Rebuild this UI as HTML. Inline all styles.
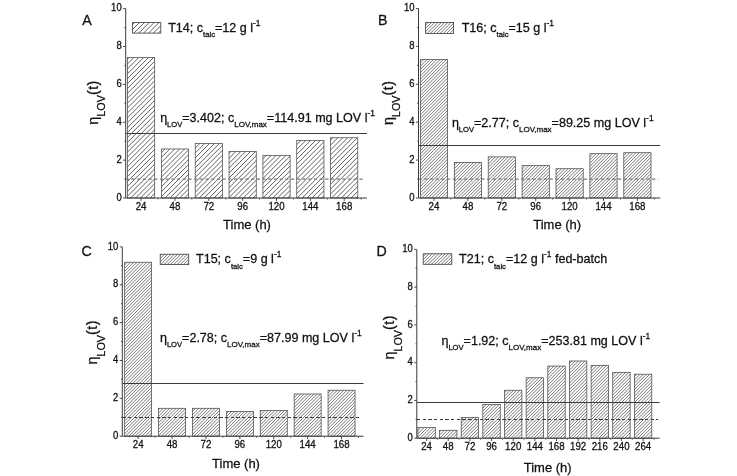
<!DOCTYPE html>
<html lang="en"><head><meta charset="utf-8"><title>Figure</title>
<style>html,body{margin:0;padding:0;background:#fff}body{width:737px;height:476px;overflow:hidden}svg{display:block}</style>
</head><body>
<svg width="737" height="476" viewBox="0 0 737 476" font-family='"Liberation Sans", sans-serif' fill="#111" stroke="#111" stroke-width="0.28">
<defs>
<clipPath id="cA"><rect x="127.50" y="57.47" width="27.20" height="140.53"/><rect x="161.35" y="148.95" width="27.20" height="49.05"/><rect x="195.20" y="143.45" width="27.20" height="54.55"/><rect x="229.05" y="151.60" width="27.20" height="46.40"/><rect x="262.90" y="155.38" width="27.20" height="42.62"/><rect x="296.75" y="140.42" width="27.20" height="57.58"/><rect x="330.60" y="137.77" width="27.20" height="60.23"/><rect x="132.5" y="22.6" width="28.3" height="10.5"/></clipPath>
<clipPath id="cB"><rect x="420.40" y="59.48" width="27.20" height="138.52"/><rect x="454.30" y="162.37" width="27.20" height="35.63"/><rect x="488.20" y="156.88" width="27.20" height="41.12"/><rect x="522.10" y="165.60" width="27.20" height="32.40"/><rect x="556.00" y="168.72" width="27.20" height="29.28"/><rect x="589.90" y="153.66" width="27.20" height="44.34"/><rect x="623.80" y="152.71" width="27.20" height="45.29"/><rect x="425.6" y="22.4" width="28" height="11"/></clipPath>
<clipPath id="cC"><rect x="124.65" y="262.23" width="27.00" height="173.97"/><rect x="158.55" y="408.28" width="27.00" height="27.92"/><rect x="192.45" y="408.28" width="27.00" height="27.92"/><rect x="226.35" y="411.59" width="27.00" height="24.61"/><rect x="260.25" y="410.46" width="27.00" height="25.74"/><rect x="294.15" y="393.99" width="27.00" height="42.21"/><rect x="328.05" y="390.20" width="27.00" height="46.00"/><rect x="160.2" y="254.2" width="28.5" height="10.4"/></clipPath>
<clipPath id="cD"><rect x="417.90" y="427.44" width="17.40" height="10.76"/><rect x="439.55" y="430.27" width="17.40" height="7.93"/><rect x="461.20" y="417.43" width="17.40" height="20.77"/><rect x="482.85" y="404.59" width="17.40" height="33.61"/><rect x="504.50" y="390.24" width="17.40" height="47.96"/><rect x="526.15" y="377.78" width="17.40" height="60.42"/><rect x="547.80" y="366.08" width="17.40" height="72.12"/><rect x="569.45" y="360.98" width="17.40" height="77.22"/><rect x="591.10" y="365.32" width="17.40" height="72.88"/><rect x="612.75" y="372.31" width="17.40" height="65.89"/><rect x="634.40" y="374.20" width="17.40" height="64.00"/><rect x="423.2" y="253.8" width="28.6" height="10.5"/></clipPath>
<clipPath id="clipA"><rect x="0" y="0" width="375" height="476"/></clipPath>
</defs>
<rect width="737" height="476" fill="#fff" stroke="none"/>
<g>
<path clip-path="url(#cA)" d="M-67.40 200.00L126.00 6.60M-62.50 200.00L130.90 6.60M-57.60 200.00L135.80 6.60M-52.70 200.00L140.70 6.60M-47.80 200.00L145.60 6.60M-42.90 200.00L150.50 6.60M-38.00 200.00L155.40 6.60M-33.10 200.00L160.30 6.60M-28.20 200.00L165.20 6.60M-23.30 200.00L170.10 6.60M-18.40 200.00L175.00 6.60M-13.50 200.00L179.90 6.60M-8.60 200.00L184.80 6.60M-3.70 200.00L189.70 6.60M1.20 200.00L194.60 6.60M6.10 200.00L199.50 6.60M11.00 200.00L204.40 6.60M15.90 200.00L209.30 6.60M20.80 200.00L214.20 6.60M25.70 200.00L219.10 6.60M30.60 200.00L224.00 6.60M35.50 200.00L228.90 6.60M40.40 200.00L233.80 6.60M45.30 200.00L238.70 6.60M50.20 200.00L243.60 6.60M55.10 200.00L248.50 6.60M60.00 200.00L253.40 6.60M64.90 200.00L258.30 6.60M69.80 200.00L263.20 6.60M74.70 200.00L268.10 6.60M79.60 200.00L273.00 6.60M84.50 200.00L277.90 6.60M89.40 200.00L282.80 6.60M94.30 200.00L287.70 6.60M99.20 200.00L292.60 6.60M104.10 200.00L297.50 6.60M109.00 200.00L302.40 6.60M113.90 200.00L307.30 6.60M118.80 200.00L312.20 6.60M123.70 200.00L317.10 6.60M128.60 200.00L322.00 6.60M133.50 200.00L326.90 6.60M138.40 200.00L331.80 6.60M143.30 200.00L336.70 6.60M148.20 200.00L341.60 6.60M153.10 200.00L346.50 6.60M158.00 200.00L351.40 6.60M162.90 200.00L356.30 6.60M167.80 200.00L361.20 6.60M172.70 200.00L366.10 6.60M177.60 200.00L371.00 6.60M182.50 200.00L375.90 6.60M187.40 200.00L380.80 6.60M192.30 200.00L385.70 6.60M197.20 200.00L390.60 6.60M202.10 200.00L395.50 6.60M207.00 200.00L400.40 6.60M211.90 200.00L405.30 6.60M216.80 200.00L410.20 6.60M221.70 200.00L415.10 6.60M226.60 200.00L420.00 6.60M231.50 200.00L424.90 6.60M236.40 200.00L429.80 6.60M241.30 200.00L434.70 6.60M246.20 200.00L439.60 6.60M251.10 200.00L444.50 6.60M256.00 200.00L449.40 6.60M260.90 200.00L454.30 6.60M265.80 200.00L459.20 6.60M270.70 200.00L464.10 6.60M275.60 200.00L469.00 6.60M280.50 200.00L473.90 6.60M285.40 200.00L478.80 6.60M290.30 200.00L483.70 6.60M295.20 200.00L488.60 6.60M300.10 200.00L493.50 6.60M305.00 200.00L498.40 6.60M309.90 200.00L503.30 6.60M314.80 200.00L508.20 6.60M319.70 200.00L513.10 6.60M324.60 200.00L518.00 6.60M329.50 200.00L522.90 6.60M334.40 200.00L527.80 6.60M339.30 200.00L532.70 6.60M344.20 200.00L537.60 6.60M349.10 200.00L542.50 6.60M354.00 200.00L547.40 6.60M358.90 200.00L552.30 6.60M363.80 200.00L557.20 6.60" fill="none" stroke="#3a3a3a" stroke-width="0.8"/>
<rect x="127.50" y="57.47" width="27.20" height="140.53" fill="none" stroke="#444" stroke-width="0.72"/>
<rect x="161.35" y="148.95" width="27.20" height="49.05" fill="none" stroke="#444" stroke-width="0.72"/>
<rect x="195.20" y="143.45" width="27.20" height="54.55" fill="none" stroke="#444" stroke-width="0.72"/>
<rect x="229.05" y="151.60" width="27.20" height="46.40" fill="none" stroke="#444" stroke-width="0.72"/>
<rect x="262.90" y="155.38" width="27.20" height="42.62" fill="none" stroke="#444" stroke-width="0.72"/>
<rect x="296.75" y="140.42" width="27.20" height="57.58" fill="none" stroke="#444" stroke-width="0.72"/>
<rect x="330.60" y="137.77" width="27.20" height="60.23" fill="none" stroke="#444" stroke-width="0.72"/>
<line x1="125.70" y1="133.50" x2="367.00" y2="133.50" stroke="#3c3c3c" stroke-width="1"/>
<line x1="125.70" y1="179.06" x2="365.00" y2="179.06" stroke="#777" stroke-width="1.3" stroke-dasharray="3.2 2.5"/>
<path d="M125.70 8.60V198.00H367.00" fill="none" stroke="#3a3a3a" stroke-width="1"/>
<path d="M125.70 198.00h-2.6M125.70 179.06h-1.3M125.70 160.12h-2.6M125.70 141.18h-1.3M125.70 122.24h-2.6M125.70 103.30h-1.3M125.70 84.36h-2.6M125.70 65.42h-1.3M125.70 46.48h-2.6M125.70 27.54h-1.3M125.70 8.60h-2.6M141.10 198.00v2.9M158.03 198.00v1.5M174.95 198.00v2.9M191.88 198.00v1.5M208.80 198.00v2.9M225.73 198.00v1.5M242.65 198.00v2.9M259.57 198.00v1.5M276.50 198.00v2.9M293.43 198.00v1.5M310.35 198.00v2.9M327.28 198.00v1.5M344.20 198.00v2.9M361.13 198.00v1.5" fill="none" stroke="#3a3a3a" stroke-width="0.9"/>
<text transform="translate(121.70 200.60) scale(0.95 1)" font-size="10.0" text-anchor="end">0</text>
<text transform="translate(121.70 162.72) scale(0.95 1)" font-size="10.0" text-anchor="end">2</text>
<text transform="translate(121.70 124.84) scale(0.95 1)" font-size="10.0" text-anchor="end">4</text>
<text transform="translate(121.70 86.96) scale(0.95 1)" font-size="10.0" text-anchor="end">6</text>
<text transform="translate(121.70 49.08) scale(0.95 1)" font-size="10.0" text-anchor="end">8</text>
<text transform="translate(121.70 11.20) scale(0.95 1)" font-size="10.0" text-anchor="end">10</text>
<text transform="translate(141.10 210.20) scale(0.97 1)" font-size="10.0" text-anchor="middle">24</text>
<text transform="translate(174.95 210.20) scale(0.97 1)" font-size="10.0" text-anchor="middle">48</text>
<text transform="translate(208.80 210.20) scale(0.97 1)" font-size="10.0" text-anchor="middle">72</text>
<text transform="translate(242.65 210.20) scale(0.97 1)" font-size="10.0" text-anchor="middle">96</text>
<text transform="translate(276.50 210.20) scale(0.97 1)" font-size="10.0" text-anchor="middle">120</text>
<text transform="translate(310.35 210.20) scale(0.97 1)" font-size="10.0" text-anchor="middle">144</text>
<text transform="translate(344.20 210.20) scale(0.97 1)" font-size="10.0" text-anchor="middle">168</text>
<text transform="translate(82.30 24.60)" font-size="14.2">A</text>
<rect x="132.5" y="22.6" width="28.3" height="10.5" fill="none" stroke="#3a3a3a" stroke-width="0.8"/>
<text transform="translate(168.20 31.80)" font-size="12.55">T14; c<tspan font-size="7.7" dy="5.3">talc</tspan><tspan dy="-5.3">=12 g l</tspan><tspan font-size="8.4" dy="-6" dx="0">-1</tspan></text>
<g clip-path="url(#clipA)">
<text transform="translate(160.20 121.90)" font-size="12.55">η<tspan font-size="7.6" dy="4.8" dx="-0.1">LOV</tspan><tspan dy="-4.8">=3.402; c</tspan><tspan font-size="8.0" dy="4.8">LOV,max</tspan><tspan dy="-4.8">=114.91 mg LOV l</tspan><tspan font-size="8.4" dy="-6.3" dx="0">-1</tspan></text>
</g>
<text transform="translate(247.00 228.60)" font-size="13.0" text-anchor="middle">Time (h)</text>
<text transform="translate(97.60 102.40) rotate(-90)" font-size="14.3" text-anchor="middle">η<tspan font-size="10.8" dy="7.6">LOV</tspan><tspan dy="-7.6" letter-spacing="0.5">(t)</tspan></text>
</g>
<g>
<path clip-path="url(#cB)" d="M228.00 200.00L421.50 6.50M231.25 200.00L424.75 6.50M234.50 200.00L428.00 6.50M237.75 200.00L431.25 6.50M241.00 200.00L434.50 6.50M244.25 200.00L437.75 6.50M247.50 200.00L441.00 6.50M250.75 200.00L444.25 6.50M254.00 200.00L447.50 6.50M257.25 200.00L450.75 6.50M260.50 200.00L454.00 6.50M263.75 200.00L457.25 6.50M267.00 200.00L460.50 6.50M270.25 200.00L463.75 6.50M273.50 200.00L467.00 6.50M276.75 200.00L470.25 6.50M280.00 200.00L473.50 6.50M283.25 200.00L476.75 6.50M286.50 200.00L480.00 6.50M289.75 200.00L483.25 6.50M293.00 200.00L486.50 6.50M296.25 200.00L489.75 6.50M299.50 200.00L493.00 6.50M302.75 200.00L496.25 6.50M306.00 200.00L499.50 6.50M309.25 200.00L502.75 6.50M312.50 200.00L506.00 6.50M315.75 200.00L509.25 6.50M319.00 200.00L512.50 6.50M322.25 200.00L515.75 6.50M325.50 200.00L519.00 6.50M328.75 200.00L522.25 6.50M332.00 200.00L525.50 6.50M335.25 200.00L528.75 6.50M338.50 200.00L532.00 6.50M341.75 200.00L535.25 6.50M345.00 200.00L538.50 6.50M348.25 200.00L541.75 6.50M351.50 200.00L545.00 6.50M354.75 200.00L548.25 6.50M358.00 200.00L551.50 6.50M361.25 200.00L554.75 6.50M364.50 200.00L558.00 6.50M367.75 200.00L561.25 6.50M371.00 200.00L564.50 6.50M374.25 200.00L567.75 6.50M377.50 200.00L571.00 6.50M380.75 200.00L574.25 6.50M384.00 200.00L577.50 6.50M387.25 200.00L580.75 6.50M390.50 200.00L584.00 6.50M393.75 200.00L587.25 6.50M397.00 200.00L590.50 6.50M400.25 200.00L593.75 6.50M403.50 200.00L597.00 6.50M406.75 200.00L600.25 6.50M410.00 200.00L603.50 6.50M413.25 200.00L606.75 6.50M416.50 200.00L610.00 6.50M419.75 200.00L613.25 6.50M423.00 200.00L616.50 6.50M426.25 200.00L619.75 6.50M429.50 200.00L623.00 6.50M432.75 200.00L626.25 6.50M436.00 200.00L629.50 6.50M439.25 200.00L632.75 6.50M442.50 200.00L636.00 6.50M445.75 200.00L639.25 6.50M449.00 200.00L642.50 6.50M452.25 200.00L645.75 6.50M455.50 200.00L649.00 6.50M458.75 200.00L652.25 6.50M462.00 200.00L655.50 6.50M465.25 200.00L658.75 6.50M468.50 200.00L662.00 6.50M471.75 200.00L665.25 6.50M475.00 200.00L668.50 6.50M478.25 200.00L671.75 6.50M481.50 200.00L675.00 6.50M484.75 200.00L678.25 6.50M488.00 200.00L681.50 6.50M491.25 200.00L684.75 6.50M494.50 200.00L688.00 6.50M497.75 200.00L691.25 6.50M501.00 200.00L694.50 6.50M504.25 200.00L697.75 6.50M507.50 200.00L701.00 6.50M510.75 200.00L704.25 6.50M514.00 200.00L707.50 6.50M517.25 200.00L710.75 6.50M520.50 200.00L714.00 6.50M523.75 200.00L717.25 6.50M527.00 200.00L720.50 6.50M530.25 200.00L723.75 6.50M533.50 200.00L727.00 6.50M536.75 200.00L730.25 6.50M540.00 200.00L733.50 6.50M543.25 200.00L736.75 6.50M546.50 200.00L740.00 6.50M549.75 200.00L743.25 6.50M553.00 200.00L746.50 6.50M556.25 200.00L749.75 6.50M559.50 200.00L753.00 6.50M562.75 200.00L756.25 6.50M566.00 200.00L759.50 6.50M569.25 200.00L762.75 6.50M572.50 200.00L766.00 6.50M575.75 200.00L769.25 6.50M579.00 200.00L772.50 6.50M582.25 200.00L775.75 6.50M585.50 200.00L779.00 6.50M588.75 200.00L782.25 6.50M592.00 200.00L785.50 6.50M595.25 200.00L788.75 6.50M598.50 200.00L792.00 6.50M601.75 200.00L795.25 6.50M605.00 200.00L798.50 6.50M608.25 200.00L801.75 6.50M611.50 200.00L805.00 6.50M614.75 200.00L808.25 6.50M618.00 200.00L811.50 6.50M621.25 200.00L814.75 6.50M624.50 200.00L818.00 6.50M627.75 200.00L821.25 6.50M631.00 200.00L824.50 6.50M634.25 200.00L827.75 6.50M637.50 200.00L831.00 6.50M640.75 200.00L834.25 6.50M644.00 200.00L837.50 6.50M647.25 200.00L840.75 6.50M650.50 200.00L844.00 6.50M653.75 200.00L847.25 6.50M657.00 200.00L850.50 6.50M660.25 200.00L853.75 6.50" fill="none" stroke="#3a3a3a" stroke-width="0.68"/>
<rect x="420.40" y="59.48" width="27.20" height="138.52" fill="none" stroke="#444" stroke-width="0.72"/>
<rect x="454.30" y="162.37" width="27.20" height="35.63" fill="none" stroke="#444" stroke-width="0.72"/>
<rect x="488.20" y="156.88" width="27.20" height="41.12" fill="none" stroke="#444" stroke-width="0.72"/>
<rect x="522.10" y="165.60" width="27.20" height="32.40" fill="none" stroke="#444" stroke-width="0.72"/>
<rect x="556.00" y="168.72" width="27.20" height="29.28" fill="none" stroke="#444" stroke-width="0.72"/>
<rect x="589.90" y="153.66" width="27.20" height="44.34" fill="none" stroke="#444" stroke-width="0.72"/>
<rect x="623.80" y="152.71" width="27.20" height="45.29" fill="none" stroke="#444" stroke-width="0.72"/>
<line x1="418.50" y1="145.50" x2="660.30" y2="145.50" stroke="#3c3c3c" stroke-width="1"/>
<line x1="418.50" y1="179.05" x2="658.30" y2="179.05" stroke="#777" stroke-width="1.3" stroke-dasharray="3.2 2.5"/>
<path d="M418.50 8.50V198.00H660.30" fill="none" stroke="#3a3a3a" stroke-width="1"/>
<path d="M418.50 198.00h-2.6M418.50 179.05h-1.3M418.50 160.10h-2.6M418.50 141.15h-1.3M418.50 122.20h-2.6M418.50 103.25h-1.3M418.50 84.30h-2.6M418.50 65.35h-1.3M418.50 46.40h-2.6M418.50 27.45h-1.3M418.50 8.50h-2.6M434.00 198.00v2.9M450.95 198.00v1.5M467.90 198.00v2.9M484.85 198.00v1.5M501.80 198.00v2.9M518.75 198.00v1.5M535.70 198.00v2.9M552.65 198.00v1.5M569.60 198.00v2.9M586.55 198.00v1.5M603.50 198.00v2.9M620.45 198.00v1.5M637.40 198.00v2.9M654.35 198.00v1.5" fill="none" stroke="#3a3a3a" stroke-width="0.9"/>
<text transform="translate(414.50 200.60) scale(0.95 1)" font-size="10.0" text-anchor="end">0</text>
<text transform="translate(414.50 162.70) scale(0.95 1)" font-size="10.0" text-anchor="end">2</text>
<text transform="translate(414.50 124.80) scale(0.95 1)" font-size="10.0" text-anchor="end">4</text>
<text transform="translate(414.50 86.90) scale(0.95 1)" font-size="10.0" text-anchor="end">6</text>
<text transform="translate(414.50 49.00) scale(0.95 1)" font-size="10.0" text-anchor="end">8</text>
<text transform="translate(414.50 11.10) scale(0.95 1)" font-size="10.0" text-anchor="end">10</text>
<text transform="translate(434.00 210.20) scale(0.97 1)" font-size="10.0" text-anchor="middle">24</text>
<text transform="translate(467.90 210.20) scale(0.97 1)" font-size="10.0" text-anchor="middle">48</text>
<text transform="translate(501.80 210.20) scale(0.97 1)" font-size="10.0" text-anchor="middle">72</text>
<text transform="translate(535.70 210.20) scale(0.97 1)" font-size="10.0" text-anchor="middle">96</text>
<text transform="translate(569.60 210.20) scale(0.97 1)" font-size="10.0" text-anchor="middle">120</text>
<text transform="translate(603.50 210.20) scale(0.97 1)" font-size="10.0" text-anchor="middle">144</text>
<text transform="translate(637.40 210.20) scale(0.97 1)" font-size="10.0" text-anchor="middle">168</text>
<text transform="translate(378.00 24.80)" font-size="14.2">B</text>
<rect x="425.6" y="22.4" width="28" height="11" fill="none" stroke="#3a3a3a" stroke-width="0.8"/>
<text transform="translate(461.70 31.80)" font-size="12.55">T16; c<tspan font-size="7.7" dy="5.3">talc</tspan><tspan dy="-5.3">=15 g l</tspan><tspan font-size="8.4" dy="-6" dx="0">-1</tspan></text>
<text transform="translate(451.90 126.80)" font-size="12.55">η<tspan font-size="7.6" dy="4.8" dx="-0.1">LOV</tspan><tspan dy="-4.8">=2.77; c</tspan><tspan font-size="8.0" dy="4.8">LOV,max</tspan><tspan dy="-4.8">=89.25 mg LOV l</tspan><tspan font-size="8.4" dy="-6.3" dx="0">-1</tspan></text>
<text transform="translate(557.20 228.60)" font-size="13.0" text-anchor="middle">Time (h)</text>
<text transform="translate(392.60 102.80) rotate(-90)" font-size="14.3" text-anchor="middle">η<tspan font-size="10.8" dy="7.6">LOV</tspan><tspan dy="-7.6" letter-spacing="0.5">(t)</tspan></text>
</g>
<g>
<path clip-path="url(#cC)" d="M-68.20 438.20L125.10 244.90M-64.95 438.20L128.35 244.90M-61.70 438.20L131.60 244.90M-58.45 438.20L134.85 244.90M-55.20 438.20L138.10 244.90M-51.95 438.20L141.35 244.90M-48.70 438.20L144.60 244.90M-45.45 438.20L147.85 244.90M-42.20 438.20L151.10 244.90M-38.95 438.20L154.35 244.90M-35.70 438.20L157.60 244.90M-32.45 438.20L160.85 244.90M-29.20 438.20L164.10 244.90M-25.95 438.20L167.35 244.90M-22.70 438.20L170.60 244.90M-19.45 438.20L173.85 244.90M-16.20 438.20L177.10 244.90M-12.95 438.20L180.35 244.90M-9.70 438.20L183.60 244.90M-6.45 438.20L186.85 244.90M-3.20 438.20L190.10 244.90M0.05 438.20L193.35 244.90M3.30 438.20L196.60 244.90M6.55 438.20L199.85 244.90M9.80 438.20L203.10 244.90M13.05 438.20L206.35 244.90M16.30 438.20L209.60 244.90M19.55 438.20L212.85 244.90M22.80 438.20L216.10 244.90M26.05 438.20L219.35 244.90M29.30 438.20L222.60 244.90M32.55 438.20L225.85 244.90M35.80 438.20L229.10 244.90M39.05 438.20L232.35 244.90M42.30 438.20L235.60 244.90M45.55 438.20L238.85 244.90M48.80 438.20L242.10 244.90M52.05 438.20L245.35 244.90M55.30 438.20L248.60 244.90M58.55 438.20L251.85 244.90M61.80 438.20L255.10 244.90M65.05 438.20L258.35 244.90M68.30 438.20L261.60 244.90M71.55 438.20L264.85 244.90M74.80 438.20L268.10 244.90M78.05 438.20L271.35 244.90M81.30 438.20L274.60 244.90M84.55 438.20L277.85 244.90M87.80 438.20L281.10 244.90M91.05 438.20L284.35 244.90M94.30 438.20L287.60 244.90M97.55 438.20L290.85 244.90M100.80 438.20L294.10 244.90M104.05 438.20L297.35 244.90M107.30 438.20L300.60 244.90M110.55 438.20L303.85 244.90M113.80 438.20L307.10 244.90M117.05 438.20L310.35 244.90M120.30 438.20L313.60 244.90M123.55 438.20L316.85 244.90M126.80 438.20L320.10 244.90M130.05 438.20L323.35 244.90M133.30 438.20L326.60 244.90M136.55 438.20L329.85 244.90M139.80 438.20L333.10 244.90M143.05 438.20L336.35 244.90M146.30 438.20L339.60 244.90M149.55 438.20L342.85 244.90M152.80 438.20L346.10 244.90M156.05 438.20L349.35 244.90M159.30 438.20L352.60 244.90M162.55 438.20L355.85 244.90M165.80 438.20L359.10 244.90M169.05 438.20L362.35 244.90M172.30 438.20L365.60 244.90M175.55 438.20L368.85 244.90M178.80 438.20L372.10 244.90M182.05 438.20L375.35 244.90M185.30 438.20L378.60 244.90M188.55 438.20L381.85 244.90M191.80 438.20L385.10 244.90M195.05 438.20L388.35 244.90M198.30 438.20L391.60 244.90M201.55 438.20L394.85 244.90M204.80 438.20L398.10 244.90M208.05 438.20L401.35 244.90M211.30 438.20L404.60 244.90M214.55 438.20L407.85 244.90M217.80 438.20L411.10 244.90M221.05 438.20L414.35 244.90M224.30 438.20L417.60 244.90M227.55 438.20L420.85 244.90M230.80 438.20L424.10 244.90M234.05 438.20L427.35 244.90M237.30 438.20L430.60 244.90M240.55 438.20L433.85 244.90M243.80 438.20L437.10 244.90M247.05 438.20L440.35 244.90M250.30 438.20L443.60 244.90M253.55 438.20L446.85 244.90M256.80 438.20L450.10 244.90M260.05 438.20L453.35 244.90M263.30 438.20L456.60 244.90M266.55 438.20L459.85 244.90M269.80 438.20L463.10 244.90M273.05 438.20L466.35 244.90M276.30 438.20L469.60 244.90M279.55 438.20L472.85 244.90M282.80 438.20L476.10 244.90M286.05 438.20L479.35 244.90M289.30 438.20L482.60 244.90M292.55 438.20L485.85 244.90M295.80 438.20L489.10 244.90M299.05 438.20L492.35 244.90M302.30 438.20L495.60 244.90M305.55 438.20L498.85 244.90M308.80 438.20L502.10 244.90M312.05 438.20L505.35 244.90M315.30 438.20L508.60 244.90M318.55 438.20L511.85 244.90M321.80 438.20L515.10 244.90M325.05 438.20L518.35 244.90M328.30 438.20L521.60 244.90M331.55 438.20L524.85 244.90M334.80 438.20L528.10 244.90M338.05 438.20L531.35 244.90M341.30 438.20L534.60 244.90M344.55 438.20L537.85 244.90M347.80 438.20L541.10 244.90M351.05 438.20L544.35 244.90M354.30 438.20L547.60 244.90M357.55 438.20L550.85 244.90M360.80 438.20L554.10 244.90" fill="none" stroke="#3a3a3a" stroke-width="0.68"/>
<rect x="124.65" y="262.23" width="27.00" height="173.97" fill="none" stroke="#444" stroke-width="0.72"/>
<rect x="158.55" y="408.28" width="27.00" height="27.92" fill="none" stroke="#444" stroke-width="0.72"/>
<rect x="192.45" y="408.28" width="27.00" height="27.92" fill="none" stroke="#444" stroke-width="0.72"/>
<rect x="226.35" y="411.59" width="27.00" height="24.61" fill="none" stroke="#444" stroke-width="0.72"/>
<rect x="260.25" y="410.46" width="27.00" height="25.74" fill="none" stroke="#444" stroke-width="0.72"/>
<rect x="294.15" y="393.99" width="27.00" height="42.21" fill="none" stroke="#444" stroke-width="0.72"/>
<rect x="328.05" y="390.20" width="27.00" height="46.00" fill="none" stroke="#444" stroke-width="0.72"/>
<line x1="122.30" y1="383.50" x2="363.50" y2="383.50" stroke="#3c3c3c" stroke-width="1"/>
<line x1="122.30" y1="417.27" x2="361.50" y2="417.27" stroke="#3a3a3a" stroke-width="1" stroke-dasharray="3.4 2.3" shape-rendering="crispEdges"/>
<path d="M122.30 246.90V436.20H363.50" fill="none" stroke="#3a3a3a" stroke-width="1"/>
<path d="M122.30 436.20h-2.6M122.30 417.27h-1.3M122.30 398.34h-2.6M122.30 379.41h-1.3M122.30 360.48h-2.6M122.30 341.55h-1.3M122.30 322.62h-2.6M122.30 303.69h-1.3M122.30 284.76h-2.6M122.30 265.83h-1.3M122.30 246.90h-2.6M138.15 436.20v2.9M155.10 436.20v1.5M172.05 436.20v2.9M189.00 436.20v1.5M205.95 436.20v2.9M222.90 436.20v1.5M239.85 436.20v2.9M256.80 436.20v1.5M273.75 436.20v2.9M290.70 436.20v1.5M307.65 436.20v2.9M324.60 436.20v1.5M341.55 436.20v2.9M358.50 436.20v1.5" fill="none" stroke="#3a3a3a" stroke-width="0.9"/>
<text transform="translate(118.30 438.80) scale(0.95 1)" font-size="10.0" text-anchor="end">0</text>
<text transform="translate(118.30 400.94) scale(0.95 1)" font-size="10.0" text-anchor="end">2</text>
<text transform="translate(118.30 363.08) scale(0.95 1)" font-size="10.0" text-anchor="end">4</text>
<text transform="translate(118.30 325.22) scale(0.95 1)" font-size="10.0" text-anchor="end">6</text>
<text transform="translate(118.30 287.36) scale(0.95 1)" font-size="10.0" text-anchor="end">8</text>
<text transform="translate(118.30 249.50) scale(0.95 1)" font-size="10.0" text-anchor="end">10</text>
<text transform="translate(138.15 448.40) scale(0.97 1)" font-size="10.0" text-anchor="middle">24</text>
<text transform="translate(172.05 448.40) scale(0.97 1)" font-size="10.0" text-anchor="middle">48</text>
<text transform="translate(205.95 448.40) scale(0.97 1)" font-size="10.0" text-anchor="middle">72</text>
<text transform="translate(239.85 448.40) scale(0.97 1)" font-size="10.0" text-anchor="middle">96</text>
<text transform="translate(273.75 448.40) scale(0.97 1)" font-size="10.0" text-anchor="middle">120</text>
<text transform="translate(307.65 448.40) scale(0.97 1)" font-size="10.0" text-anchor="middle">144</text>
<text transform="translate(341.55 448.40) scale(0.97 1)" font-size="10.0" text-anchor="middle">168</text>
<text transform="translate(81.50 255.60)" font-size="14.2">C</text>
<rect x="160.2" y="254.2" width="28.5" height="10.4" fill="none" stroke="#3a3a3a" stroke-width="0.8"/>
<text transform="translate(196.00 263.20)" font-size="12.55">T15; c<tspan font-size="7.7" dy="5.3">talc</tspan><tspan dy="-5.3">=9 g l</tspan><tspan font-size="8.4" dy="-6" dx="0">-1</tspan></text>
<text transform="translate(160.00 342.40)" font-size="12.55">η<tspan font-size="7.6" dy="4.8" dx="-0.1">LOV</tspan><tspan dy="-4.8">=2.78; c</tspan><tspan font-size="8.0" dy="4.8">LOV,max</tspan><tspan dy="-4.8">=87.99 mg LOV l</tspan><tspan font-size="8.4" dy="-6.3" dx="0">-1</tspan></text>
<text transform="translate(236.00 467.70)" font-size="13.0" text-anchor="middle">Time (h)</text>
<text transform="translate(97.00 342.30) rotate(-90)" font-size="14.3" text-anchor="middle">η<tspan font-size="10.8" dy="7.6">LOV</tspan><tspan dy="-7.6" letter-spacing="0.5">(t)</tspan></text>
</g>
<g>
<path clip-path="url(#cD)" d="M226.30 440.20L419.10 247.40M229.55 440.20L422.35 247.40M232.80 440.20L425.60 247.40M236.05 440.20L428.85 247.40M239.30 440.20L432.10 247.40M242.55 440.20L435.35 247.40M245.80 440.20L438.60 247.40M249.05 440.20L441.85 247.40M252.30 440.20L445.10 247.40M255.55 440.20L448.35 247.40M258.80 440.20L451.60 247.40M262.05 440.20L454.85 247.40M265.30 440.20L458.10 247.40M268.55 440.20L461.35 247.40M271.80 440.20L464.60 247.40M275.05 440.20L467.85 247.40M278.30 440.20L471.10 247.40M281.55 440.20L474.35 247.40M284.80 440.20L477.60 247.40M288.05 440.20L480.85 247.40M291.30 440.20L484.10 247.40M294.55 440.20L487.35 247.40M297.80 440.20L490.60 247.40M301.05 440.20L493.85 247.40M304.30 440.20L497.10 247.40M307.55 440.20L500.35 247.40M310.80 440.20L503.60 247.40M314.05 440.20L506.85 247.40M317.30 440.20L510.10 247.40M320.55 440.20L513.35 247.40M323.80 440.20L516.60 247.40M327.05 440.20L519.85 247.40M330.30 440.20L523.10 247.40M333.55 440.20L526.35 247.40M336.80 440.20L529.60 247.40M340.05 440.20L532.85 247.40M343.30 440.20L536.10 247.40M346.55 440.20L539.35 247.40M349.80 440.20L542.60 247.40M353.05 440.20L545.85 247.40M356.30 440.20L549.10 247.40M359.55 440.20L552.35 247.40M362.80 440.20L555.60 247.40M366.05 440.20L558.85 247.40M369.30 440.20L562.10 247.40M372.55 440.20L565.35 247.40M375.80 440.20L568.60 247.40M379.05 440.20L571.85 247.40M382.30 440.20L575.10 247.40M385.55 440.20L578.35 247.40M388.80 440.20L581.60 247.40M392.05 440.20L584.85 247.40M395.30 440.20L588.10 247.40M398.55 440.20L591.35 247.40M401.80 440.20L594.60 247.40M405.05 440.20L597.85 247.40M408.30 440.20L601.10 247.40M411.55 440.20L604.35 247.40M414.80 440.20L607.60 247.40M418.05 440.20L610.85 247.40M421.30 440.20L614.10 247.40M424.55 440.20L617.35 247.40M427.80 440.20L620.60 247.40M431.05 440.20L623.85 247.40M434.30 440.20L627.10 247.40M437.55 440.20L630.35 247.40M440.80 440.20L633.60 247.40M444.05 440.20L636.85 247.40M447.30 440.20L640.10 247.40M450.55 440.20L643.35 247.40M453.80 440.20L646.60 247.40M457.05 440.20L649.85 247.40M460.30 440.20L653.10 247.40M463.55 440.20L656.35 247.40M466.80 440.20L659.60 247.40M470.05 440.20L662.85 247.40M473.30 440.20L666.10 247.40M476.55 440.20L669.35 247.40M479.80 440.20L672.60 247.40M483.05 440.20L675.85 247.40M486.30 440.20L679.10 247.40M489.55 440.20L682.35 247.40M492.80 440.20L685.60 247.40M496.05 440.20L688.85 247.40M499.30 440.20L692.10 247.40M502.55 440.20L695.35 247.40M505.80 440.20L698.60 247.40M509.05 440.20L701.85 247.40M512.30 440.20L705.10 247.40M515.55 440.20L708.35 247.40M518.80 440.20L711.60 247.40M522.05 440.20L714.85 247.40M525.30 440.20L718.10 247.40M528.55 440.20L721.35 247.40M531.80 440.20L724.60 247.40M535.05 440.20L727.85 247.40M538.30 440.20L731.10 247.40M541.55 440.20L734.35 247.40M544.80 440.20L737.60 247.40M548.05 440.20L740.85 247.40M551.30 440.20L744.10 247.40M554.55 440.20L747.35 247.40M557.80 440.20L750.60 247.40M561.05 440.20L753.85 247.40M564.30 440.20L757.10 247.40M567.55 440.20L760.35 247.40M570.80 440.20L763.60 247.40M574.05 440.20L766.85 247.40M577.30 440.20L770.10 247.40M580.55 440.20L773.35 247.40M583.80 440.20L776.60 247.40M587.05 440.20L779.85 247.40M590.30 440.20L783.10 247.40M593.55 440.20L786.35 247.40M596.80 440.20L789.60 247.40M600.05 440.20L792.85 247.40M603.30 440.20L796.10 247.40M606.55 440.20L799.35 247.40M609.80 440.20L802.60 247.40M613.05 440.20L805.85 247.40M616.30 440.20L809.10 247.40M619.55 440.20L812.35 247.40M622.80 440.20L815.60 247.40M626.05 440.20L818.85 247.40M629.30 440.20L822.10 247.40M632.55 440.20L825.35 247.40M635.80 440.20L828.60 247.40M639.05 440.20L831.85 247.40M642.30 440.20L835.10 247.40M645.55 440.20L838.35 247.40M648.80 440.20L841.60 247.40M652.05 440.20L844.85 247.40M655.30 440.20L848.10 247.40M658.55 440.20L851.35 247.40" fill="none" stroke="#3a3a3a" stroke-width="0.68"/>
<rect x="417.90" y="427.44" width="17.40" height="10.76" fill="none" stroke="#444" stroke-width="0.72"/>
<rect x="439.55" y="430.27" width="17.40" height="7.93" fill="none" stroke="#444" stroke-width="0.72"/>
<rect x="461.20" y="417.43" width="17.40" height="20.77" fill="none" stroke="#444" stroke-width="0.72"/>
<rect x="482.85" y="404.59" width="17.40" height="33.61" fill="none" stroke="#444" stroke-width="0.72"/>
<rect x="504.50" y="390.24" width="17.40" height="47.96" fill="none" stroke="#444" stroke-width="0.72"/>
<rect x="526.15" y="377.78" width="17.40" height="60.42" fill="none" stroke="#444" stroke-width="0.72"/>
<rect x="547.80" y="366.08" width="17.40" height="72.12" fill="none" stroke="#444" stroke-width="0.72"/>
<rect x="569.45" y="360.98" width="17.40" height="77.22" fill="none" stroke="#444" stroke-width="0.72"/>
<rect x="591.10" y="365.32" width="17.40" height="72.88" fill="none" stroke="#444" stroke-width="0.72"/>
<rect x="612.75" y="372.31" width="17.40" height="65.89" fill="none" stroke="#444" stroke-width="0.72"/>
<rect x="634.40" y="374.20" width="17.40" height="64.00" fill="none" stroke="#444" stroke-width="0.72"/>
<line x1="416.80" y1="402.50" x2="659.60" y2="402.50" stroke="#3c3c3c" stroke-width="1"/>
<line x1="416.80" y1="419.32" x2="657.60" y2="419.32" stroke="#3a3a3a" stroke-width="1" stroke-dasharray="3.4 2.3" shape-rendering="crispEdges"/>
<path d="M416.80 249.40V438.20H659.60" fill="none" stroke="#3a3a3a" stroke-width="1"/>
<path d="M416.80 438.20h-2.6M416.80 419.32h-1.3M416.80 400.44h-2.6M416.80 381.56h-1.3M416.80 362.68h-2.6M416.80 343.80h-1.3M416.80 324.92h-2.6M416.80 306.04h-1.3M416.80 287.16h-2.6M416.80 268.28h-1.3M416.80 249.40h-2.6M426.60 438.20v2.9M437.43 438.20v1.5M448.25 438.20v2.9M459.07 438.20v1.5M469.90 438.20v2.9M480.73 438.20v1.5M491.55 438.20v2.9M502.38 438.20v1.5M513.20 438.20v2.9M524.03 438.20v1.5M534.85 438.20v2.9M545.68 438.20v1.5M556.50 438.20v2.9M567.33 438.20v1.5M578.15 438.20v2.9M588.98 438.20v1.5M599.80 438.20v2.9M610.62 438.20v1.5M621.45 438.20v2.9M632.28 438.20v1.5M643.10 438.20v2.9M653.93 438.20v1.5" fill="none" stroke="#3a3a3a" stroke-width="0.9"/>
<text transform="translate(412.80 440.80) scale(0.95 1)" font-size="10.0" text-anchor="end">0</text>
<text transform="translate(412.80 403.04) scale(0.95 1)" font-size="10.0" text-anchor="end">2</text>
<text transform="translate(412.80 365.28) scale(0.95 1)" font-size="10.0" text-anchor="end">4</text>
<text transform="translate(412.80 327.52) scale(0.95 1)" font-size="10.0" text-anchor="end">6</text>
<text transform="translate(412.80 289.76) scale(0.95 1)" font-size="10.0" text-anchor="end">8</text>
<text transform="translate(412.80 252.00) scale(0.95 1)" font-size="10.0" text-anchor="end">10</text>
<text transform="translate(426.60 450.40) scale(0.97 1)" font-size="10.0" text-anchor="middle">24</text>
<text transform="translate(448.25 450.40) scale(0.97 1)" font-size="10.0" text-anchor="middle">48</text>
<text transform="translate(469.90 450.40) scale(0.97 1)" font-size="10.0" text-anchor="middle">72</text>
<text transform="translate(491.55 450.40) scale(0.97 1)" font-size="10.0" text-anchor="middle">96</text>
<text transform="translate(513.20 450.40) scale(0.97 1)" font-size="10.0" text-anchor="middle">120</text>
<text transform="translate(534.85 450.40) scale(0.97 1)" font-size="10.0" text-anchor="middle">144</text>
<text transform="translate(556.50 450.40) scale(0.97 1)" font-size="10.0" text-anchor="middle">168</text>
<text transform="translate(578.15 450.40) scale(0.97 1)" font-size="10.0" text-anchor="middle">192</text>
<text transform="translate(599.80 450.40) scale(0.97 1)" font-size="10.0" text-anchor="middle">216</text>
<text transform="translate(621.45 450.40) scale(0.97 1)" font-size="10.0" text-anchor="middle">240</text>
<text transform="translate(643.10 450.40) scale(0.97 1)" font-size="10.0" text-anchor="middle">264</text>
<text transform="translate(376.50 255.80)" font-size="14.2">D</text>
<rect x="423.2" y="253.8" width="28.6" height="10.5" fill="none" stroke="#3a3a3a" stroke-width="0.8"/>
<text transform="translate(459.10 263.20)" font-size="12.55">T21; c<tspan font-size="7.7" dy="5.3">talc</tspan><tspan dy="-5.3">=12 g l</tspan><tspan font-size="8.4" dy="-6" dx="0">-1</tspan><tspan dy="6"> fed-batch</tspan></text>
<text transform="translate(441.50 345.00)" font-size="12.55">η<tspan font-size="7.6" dy="4.8" dx="-0.1">LOV</tspan><tspan dy="-4.8">=1.92; c</tspan><tspan font-size="8.0" dy="4.8">LOV,max</tspan><tspan dy="-4.8">=253.81 mg LOV l</tspan><tspan font-size="8.4" dy="-6.3" dx="0">-1</tspan></text>
<text transform="translate(547.70 471.70)" font-size="13.0" text-anchor="middle">Time (h)</text>
<text transform="translate(394.20 337.30) rotate(-90)" font-size="14.3" text-anchor="middle">η<tspan font-size="10.8" dy="7.6">LOV</tspan><tspan dy="-7.6" letter-spacing="0.5">(t)</tspan></text>
</g>
</svg>
</body></html>
